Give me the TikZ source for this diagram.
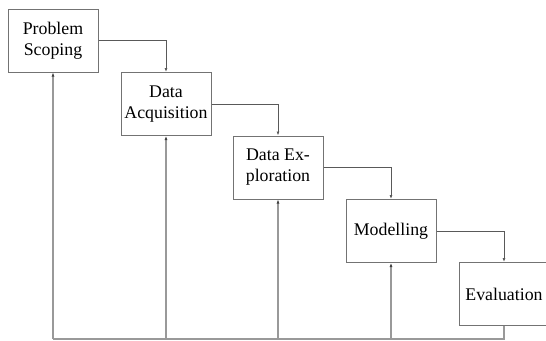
\documentclass[tikz,border=0pt]{standalone}
\usepackage{fontspec}
\setmainfont{Liberation Serif}
\usetikzlibrary{arrows.meta,calc,positioning}
\tikzset{
  stage/.style={draw=black!55,line width=1pt,fill=white,minimum width=90pt,minimum height=63pt,
    inner sep=0pt,align=center,font=\fontsize{17.8}{21}\selectfont},
  flow/.style={draw=black!65,line width=0.9pt,-{Latex[length=4pt,width=3pt]}},
  back/.style={draw=black!40,line width=1.3pt},
  backup/.style={back,-{Latex[length=4pt,width=3pt,color=black!75]}}
}
\begin{document}
\begin{tikzpicture}[>=Latex,x=1pt,y=-1pt]
\useasboundingbox (0,0) rectangle (546,340);
\clip (0,0) rectangle (546,340);
\coordinate (floor) at (0,339);
\node[stage] (ps) at (53,40.5) {Problem\\Scoping};
\node[stage] (da) at (166,104) {Data\\Acquisition};
\node[stage] (de) at (278,167.5) {Data Ex-\\ploration};
\node[stage] (mo) at (391,231) {Modelling};
\node[stage] (ev) at (504,294) {Evaluation};
% forward steps
\draw[flow] (ps.east) -| (da.north);
\draw[flow] (da.east) -| (de.north);
\draw[flow] (de.east) -| (mo.north);
\draw[flow] (mo.east) -| (ev.north);
% feedback to every stage
\draw[back] (ev.south) -- (ev.south |- floor) -- (ps.south |- floor);
\foreach \n in {ps,da,de,mo}
  \draw[backup] (\n.south |- floor) -- (\n.south);
\end{tikzpicture}
\end{document}
